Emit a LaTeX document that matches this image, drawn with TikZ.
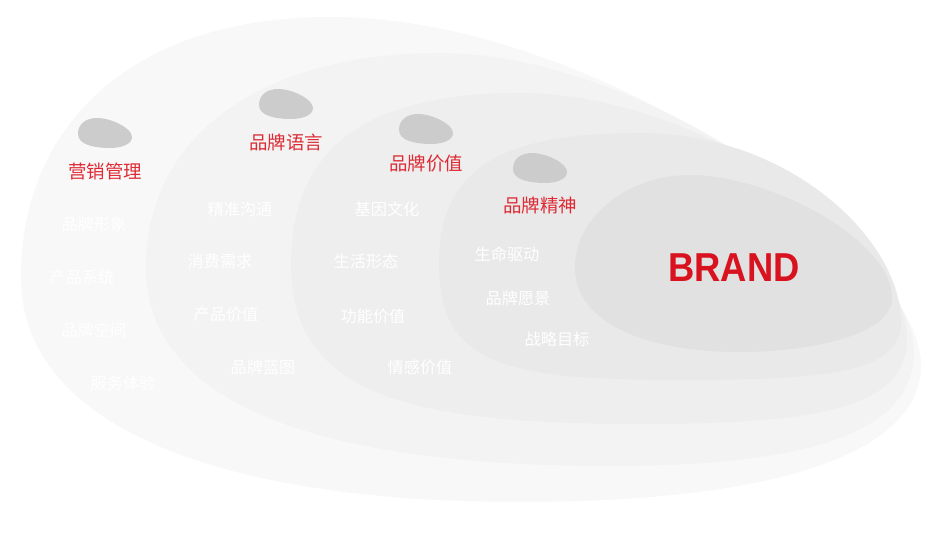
\documentclass[tikz,border=0pt]{standalone}
\usepackage{fontspec}
\usepackage{tikz}
\usetikzlibrary{positioning}
\newfontfamily\cjk{Noto Sans CJK SC}
\newfontfamily\brandfont{Liberation Sans}
\definecolor{layerA}{HTML}{F8F8F8}
\definecolor{layerB}{HTML}{F3F3F3}
\definecolor{layerC}{HTML}{EEEEEE}
\definecolor{layerD}{HTML}{E9E9E9}
\definecolor{layerE}{HTML}{E1E1E1}
\definecolor{blobgray}{HTML}{CCCCCC}
\definecolor{brandred}{HTML}{D8131F}
\definecolor{labelred}{HTML}{DD2A34}

\tikzset{
  title/.style={text=labelred, font=\cjk\fontsize{10.5}{12}\selectfont, inner sep=0pt},
  item/.style={text=white, font=\cjk\fontsize{9.2}{11}\selectfont, inner sep=0pt},
}

\begin{document}
\begin{tikzpicture}[x=0.02cm, y=-0.02cm]
    \useasboundingbox (0,0) rectangle (936,536);
    \fill[white] (0,0) rectangle (936,536);

    % Layers, outside in
    \fill[layerA] (21,277) .. controls (21,127) and (130,17) .. (330,17)
        .. controls (600,17) and (921,250) .. (921,365)
        .. controls (921,455) and (770,502) .. (520,502)
        .. controls (220,502) and (21,427) .. (21,277) -- cycle;
    \fill[layerB] (146,267) .. controls (146,137) and (260,53) .. (440,53)
        .. controls (650,53) and (914,250) .. (914,352)
        .. controls (914,432) and (810,466) .. (610,466)
        .. controls (360,466) and (146,420) .. (146,267) -- cycle;
    \fill[layerC] (291,265) .. controls (291,145) and (370,93) .. (520,93)
        .. controls (700,93) and (907,240) .. (907,338)
        .. controls (907,408) and (820,424) .. (640,424)
        .. controls (410,424) and (291,395) .. (291,265) -- cycle;
    \fill[layerD] (439,263) .. controls (439,163) and (510,133) .. (640,133)
        .. controls (790,133) and (901,240) .. (901,322)
        .. controls (901,372) and (830,380) .. (680,380)
        .. controls (500,380) and (439,363) .. (439,263) -- cycle;
    \fill[layerE] (575,268) .. controls (575,215) and (630,175) .. (690,175)
        .. controls (770,175) and (892,240) .. (892,298)
        .. controls (892,335) and (810,352) .. (740,352)
        .. controls (640,352) and (575,320) .. (575,268) -- cycle;

    % Pebbles above the titles
    \foreach \px/\py in {105/133, 286/104, 426/129, 540/168}
        \fill[blobgray, shift={(\px,\py)}] (-27,1) .. controls (-27,-10) and (-18,-15) .. (-8,-15)
            .. controls (6,-15) and (27,-5) .. (27,4)
            .. controls (27,12) and (15,15) .. (5,15)
            .. controls (-10,15) and (-27,12) .. (-27,1) -- cycle;

    % Titles
    \node[title] (mkt) at (105,171) {营销管理};
    \node[title] (lang) at (286,142) {品牌语言};
    \node[title] (val) at (426,164) {品牌价值};
    \node[title] (spirit) at (540,205) {品牌精神};

    % Items
    \foreach \txt/\px/\py [count=\i] in {品牌形象/94/224, 产品系统/82/277, 品牌空间/94/330, 服务体验/123/383}
        \node[item] (mkt\i) at (\px,\py) {\txt};
    \foreach \txt/\px/\py [count=\i] in {精准沟通/240/209, 消费需求/220/261, 产品价值/226/314, 品牌蓝图/263/367}
        \node[item] (lang\i) at (\px,\py) {\txt};
    \foreach \txt/\px/\py [count=\i] in {基因文化/387/209, 生活形态/366/261, 功能价值/373/316, 情感价值/420/367}
        \node[item] (val\i) at (\px,\py) {\txt};
    \foreach \txt/\px/\py [count=\i] in {生命驱动/507/254, 品牌愿景/518/298, 战略目标/557/339}
        \node[item] (spirit\i) at (\px,\py) {\txt};

    % Core
    \node[text=brandred, font=\brandfont\bfseries\fontsize{23}{26}\selectfont, xscale=0.9, inner sep=0pt] (brand) at (734,268) {BRAND};
\end{tikzpicture}
\end{document}
